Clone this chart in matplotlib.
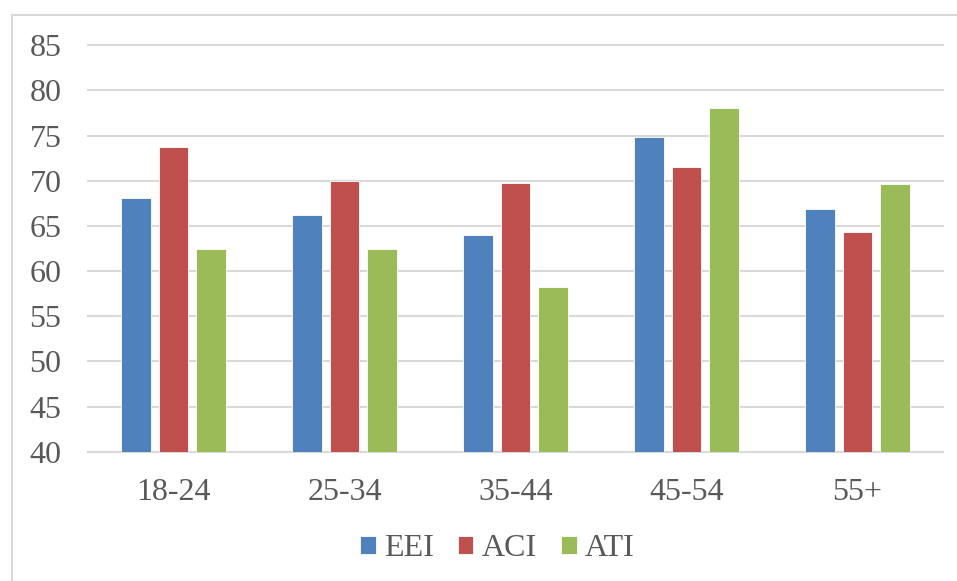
import numpy as np
import matplotlib.pyplot as plt
from matplotlib.lines import Line2D

# age groups and index scores
groups = ['18-24', '25-34', '35-44', '45-54', '55+']
eei = [68.1, 66.2, 64.0, 74.8, 66.9]
aci = [73.7, 70.0, 69.8, 71.5, 64.3]
ati = [62.5, 62.5, 58.2, 78.1, 69.6]
series = ['EEI', 'ACI', 'ATI']
colors = ['#4F81BD', '#C0504D', '#9BBB59']

plt.rcParams['font.family'] = ['Liberation Serif', 'DejaVu Serif']

W, H = 957, 581
fig = plt.figure(figsize=(W / 100, H / 100), dpi=100)
ax = fig.add_axes([88 / W, 1 - 451.7 / H, (943 - 88) / W, (451.7 - 45.3) / H])

x = np.arange(len(groups))
w = 0.175
off = 0.222
for i, (vals, c, name) in enumerate(zip([eei, aci, ati], colors, series)):
    ax.bar(x + (i - 1) * off, np.array(vals) - 40, width=w, bottom=40,
           color=c, edgecolor='white', linewidth=0.6, label=name, zorder=3)

ax.set_xlim(-0.5, len(groups) - 0.5)
ax.set_ylim(40, 85)
ax.set_yticks(range(40, 86, 5))
ax.set_xticks(x)
ax.set_xticklabels(groups)
ax.yaxis.grid(True, color='#d9d9d9', linewidth=1.5, zorder=0)
for gl in ax.get_ygridlines():
    gl.set_clip_on(False)
for s in ['top', 'right', 'left']:
    ax.spines[s].set_visible(False)
ax.spines['bottom'].set_color('#d9d9d9')
ax.spines['bottom'].set_linewidth(1.5)
ax.tick_params(axis='both', length=0, labelsize=23, labelcolor='#595959')
ax.tick_params(axis='y', pad=19)
ax.tick_params(axis='x', pad=19)

fig.legend(loc='center', bbox_to_anchor=(497 / W, 1 - 549 / H), ncol=3,
           frameon=False, fontsize=23, labelcolor='#595959',
           handlelength=0.5, handleheight=0.5, handletextpad=0.25,
           columnspacing=0.75)

# chart frame
fig.add_artist(Line2D([12 / W, 1], [1 - 14.5 / H] * 2, color='#d9d9d9', linewidth=1.5))
fig.add_artist(Line2D([12 / W] * 2, [0, 1 - 14.5 / H], color='#d9d9d9', linewidth=1.5))

fig.savefig('out.png', dpi=100)
